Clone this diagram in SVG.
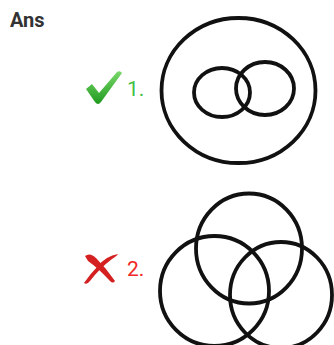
<svg xmlns="http://www.w3.org/2000/svg" width="334" height="345" viewBox="0 0 334 345">
<style>
.c{fill:none;stroke:#111;stroke-width:3.8}
.lbl{font-family:Roboto,"Liberation Sans",sans-serif;font-size:21px}
</style>
<defs>
<linearGradient id="g" x1="0" y1="0" x2="0" y2="1">
<stop offset="0" stop-color="#7ad86a"/>
<stop offset="1" stop-color="#1f9a1f"/>
</linearGradient>
</defs>
<rect width="334" height="345" fill="#fff"/>
<text x="10" y="27" font-family="Roboto,'Liberation Sans',sans-serif" font-size="20" font-weight="bold" fill="#333">Ans</text>
<g id="n1">
<path d="M86,89 L92,84 L99,93 L117,72 Q120,70 122,73 L101,102 Q98,106 95,102 Z" fill="url(#g)"/>
<text class="lbl" x="127" y="96" fill="#44c044">1.</text>
<ellipse class="c" cx="238.5" cy="90.5" rx="77" ry="72.5"/>
<ellipse class="c" cx="222" cy="92.5" rx="28" ry="24.5"/>
<ellipse class="c" cx="265" cy="88.5" rx="29" ry="26.5"/>
</g>
<g id="n2">
<path d="M85,256 Q90,252 96,258 Q106,268 115,281 Q113,284 110,281 Q98,268 88,261 Z" fill="#d42020"/>
<path d="M118,254 Q106,256 98,266 Q90,274 84,283 Q87,285 90,281 Q100,268 112,259 Q117,256 118,254 Z" fill="#d42020"/>
<text class="lbl" x="127" y="276" fill="#f02828">2.</text>
<ellipse class="c" cx="249" cy="248.5" rx="53" ry="55"/>
<ellipse class="c" cx="214.5" cy="291" rx="54.5" ry="55"/>
<ellipse class="c" cx="281" cy="295" rx="51" ry="53"/>
</g>
</svg>
